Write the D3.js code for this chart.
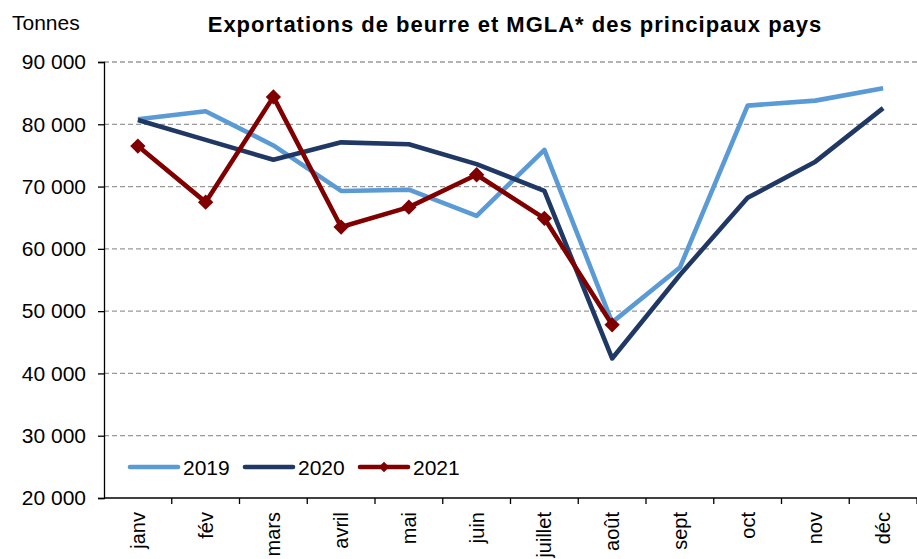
<!DOCTYPE html>
<html>
<head>
<meta charset="utf-8">
<script src="https://cdn.jsdelivr.net/npm/d3@7"></script>
<style>
  body { margin: 0; background: #fff; }
  svg { font-family: "Liberation Sans", Arial, sans-serif; }
</style>
</head>
<body>
<svg id="chart"></svg>
<script>
// categories (months)
const months = ['janv', 'fév', 'mars', 'avril', 'mai', 'juin', 'juillet', 'août', 'sept', 'oct', 'nov', 'déc'];

// exports in tonnes
const exp2019 = [80800, 82100, 76600, 69300, 69500, 65300, 75900, 48200, 57000, 83000, 83800, 85800];
const exp2020 = [80700, 77500, 74300, 77100, 76800, 73600, 69300, 42400, 55800, 68200, 74000, 82600];
const exp2021 = [76500, 67500, 84400, 63500, 66700, 71900, 64900, 47800];

const yTicks = [20000, 30000, 40000, 50000, 60000, 70000, 80000, 90000];

const series = [
    { name: '2019', values: exp2019, color: '#5b9bd5', marker: false },
    { name: '2020', values: exp2020, color: '#203864', marker: false },
    { name: '2021', values: exp2021, color: '#800000', marker: true }
];

// set the dimensions and margins of the graph
let margin = {top: 62, right: 0, bottom: 61, left: 104},
    width = 917 - margin.left - margin.right,
    height = 559 - margin.top - margin.bottom;

let svg = d3.select('#chart')
    .attr('width', 917)
    .attr('height', 559);

let g = svg.append('g')
    .attr('transform', 'translate(' + margin.left + ',' + margin.top + ')');

// set the ranges
let x = d3.scaleBand().domain(months).range([0, width]);
let y = d3.scaleLinear().domain([20000, 90000]).range([height, 0]);

let fmt = d => d3.format(',')(d).replace(',', ' ');

// dashed gridlines
g.selectAll('.grid')
    .data(yTicks.slice(1))
    .enter()
    .append('line')
    .attr('x1', 0)
    .attr('x2', width)
    .attr('y1', d => y(d))
    .attr('y2', d => y(d))
    .attr('stroke', '#999')
    .attr('stroke-width', 1.3)
    .attr('stroke-dasharray', '5,3');

// y axis
let yAxis = g.append('g')
    .call(d3.axisLeft(y).tickValues(yTicks).tickFormat(fmt).tickSize(6).tickPadding(12));
yAxis.select('.domain').attr('stroke', '#000').attr('stroke-width', 1.3);
yAxis.selectAll('.tick line').attr('stroke', '#000').attr('stroke-width', 1.3);
yAxis.selectAll('text').attr('font-size', '21px').attr('fill', '#000')
    .attr('font-family', '"Liberation Sans", Arial, sans-serif');

// x axis: ticks at band boundaries
let xAxis = g.append('g').attr('transform', 'translate(0,' + height + ')');
xAxis.append('line')
    .attr('x1', 0).attr('x2', width)
    .attr('stroke', '#000').attr('stroke-width', 1.3);
xAxis.selectAll('.xtick')
    .data(months.slice(1).concat(['end']))
    .enter()
    .append('line')
    .attr('x1', (d, i) => x(months[0]) + (i + 1) * x.step())
    .attr('x2', (d, i) => x(months[0]) + (i + 1) * x.step())
    .attr('y1', 0).attr('y2', 6)
    .attr('stroke', '#000').attr('stroke-width', 1.3);
xAxis.selectAll('.xlabel')
    .data(months)
    .enter()
    .append('text')
    .text(d => d)
    .attr('transform', d => 'translate(' + (x(d) + x.bandwidth() / 2 + 7) + ',14)rotate(-90)')
    .attr('text-anchor', 'end')
    .attr('font-size', '20px');

// lines
let line = d3.line()
    .x((d, i) => x(months[i]) + x.bandwidth() / 2)
    .y(d => y(d));

series.forEach(s => {
    g.append('path')
        .datum(s.values)
        .attr('d', line)
        .attr('fill', 'none')
        .attr('stroke', s.color)
        .attr('stroke-width', 4.6)
        .attr('stroke-linejoin', 'round');
    if (s.marker) {
        g.selectAll('.mk' + s.name)
            .data(s.values)
            .enter()
            .append('path')
            .attr('d', d3.symbol(d3.symbolDiamond2, 150))
            .attr('transform', (d, i) => 'translate(' + (x(months[i]) + x.bandwidth() / 2) + ',' + y(d) + ')')
            .attr('fill', s.color);
    }
});

// legend
let legend = svg.append('g').attr('transform', 'translate(130,467)');
series.forEach((s, i) => {
    let lg = legend.append('g').attr('transform', 'translate(' + (i * 115) + ',0)');
    lg.append('line')
        .attr('x1', 0).attr('x2', 48)
        .attr('stroke', s.color).attr('stroke-width', 4.6).attr('stroke-linecap', 'round');
    if (s.marker) {
        lg.append('path')
            .attr('d', d3.symbol(d3.symbolDiamond2, 70))
            .attr('transform', 'translate(24,0)')
            .attr('fill', s.color);
    }
    lg.append('text')
        .text(s.name)
        .attr('x', 53).attr('y', 8)
        .attr('font-size', '21px');
});

// title and unit
svg.append('text')
    .text('Exportations de beurre et MGLA* des principaux pays')
    .attr('x', 515).attr('y', 32)
    .attr('text-anchor', 'middle')
    .attr('font-size', '22px')
    .attr('letter-spacing', '1px')
    .attr('font-weight', 'bold');

svg.append('text')
    .text('Tonnes')
    .attr('x', 12).attr('y', 30)
    .attr('font-size', '21px');
</script>
</body>
</html>
